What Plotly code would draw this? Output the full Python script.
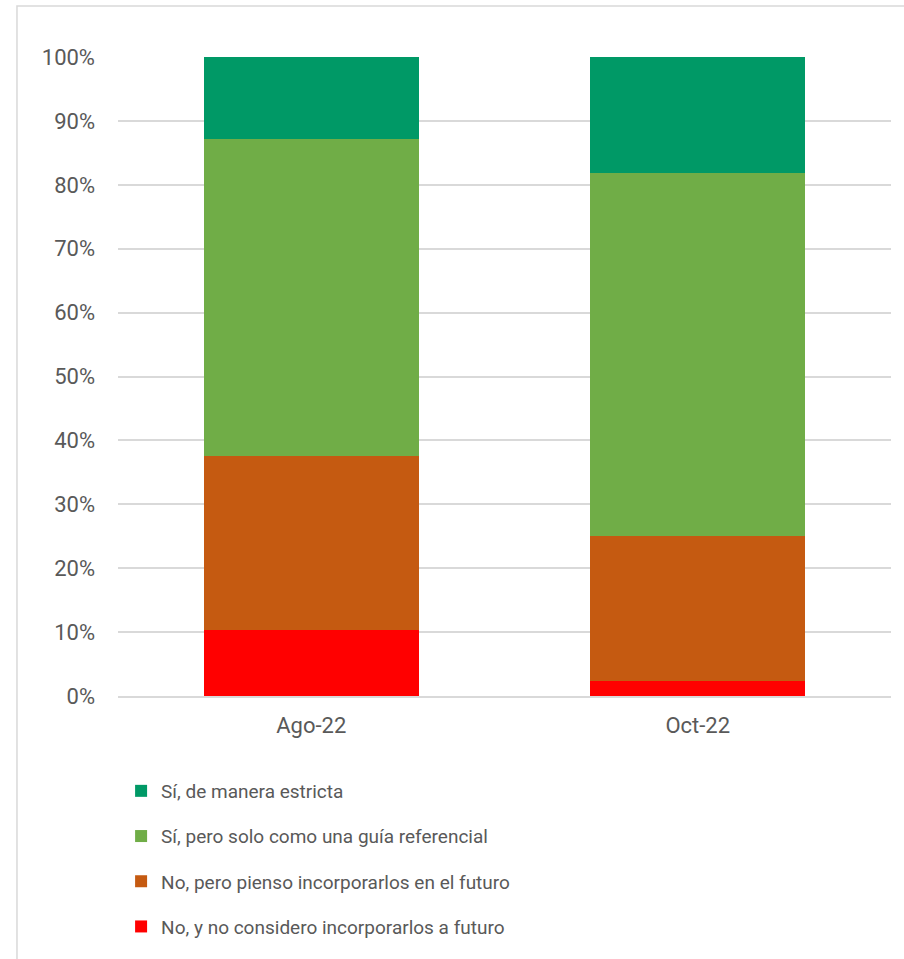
import plotly.graph_objects as go

# Survey periods
periods = ["Ago-22", "Oct-22"]

# Response shares (%) per period, bottom to top of each stack
no_y_no_considero = [10.3, 2.3]
no_pero_futuro = [27.3, 22.7]
si_guia_referencial = [49.5, 56.8]
si_estricta = [12.9, 18.2]

series_names = [
    "No, y no considero incorporarlos a futuro",
    "No, pero pienso incorporarlos en el futuro",
    "Sí, pero solo como una guía referencial",
    "Sí, de manera estricta",
]
series_values = [no_y_no_considero, no_pero_futuro, si_guia_referencial, si_estricta]
series_colors = ["#FF0000", "#C55A11", "#70AD47", "#009966"]

FONT = "Roboto, Liberation Sans, Arial, sans-serif"
GRID = "#D9D9D9"
TEXT = "#595959"

fig = go.Figure()
n = len(series_names)
for i, (name, vals, col) in enumerate(zip(series_names, series_values, series_colors)):
    fig.add_trace(go.Bar(
        x=periods,
        y=[v / 100 for v in vals],
        name=name,
        legendgroup=name,
        legendrank=n - i,  # top stack segment listed first
        marker=dict(color=col, line=dict(width=0)),
        width=0.556,
    ))

# Outer chart frame
fig.add_shape(type="rect", xref="paper", yref="paper",
              x0=-0.1307, x1=1.2, y0=-0.6, y1=1.0798,
              line=dict(color=GRID, width=1.5), fillcolor="rgba(0,0,0,0)",
              layer="below")

fig.update_layout(
    width=904, height=959,
    margin=dict(l=118, r=13, t=57, b=263),
    paper_bgcolor="white", plot_bgcolor="white",
    barmode="stack",
    bargap=0.444,
    font=dict(family=FONT, color=TEXT, size=18),
    xaxis=dict(
        showgrid=False, showline=True, linecolor=GRID, linewidth=1.5,
        ticks="", tickfont=dict(size=22, color=TEXT, family=FONT),
        ticklabelstandoff=9,
    ),
    yaxis=dict(
        range=[0, 1], tickvals=[i / 10 for i in range(11)],
        tickformat=".0%", showgrid=True, gridcolor=GRID, gridwidth=1.5,
        zeroline=False, showline=False, ticks="",
        tickfont=dict(size=22, color=TEXT, family=FONT),
        ticklabelstandoff=22,
    ),
    legend=dict(
        orientation="v", traceorder="grouped",
        xref="paper", x=0.004, xanchor="left",
        yref="container", y=0.195, yanchor="top",
        font=dict(size=19, color=TEXT, family=FONT),
        tracegroupgap=17.5, itemwidth=30,
        bgcolor="rgba(0,0,0,0)",
    ),
    showlegend=True,
)

fig.write_html("out.html")
